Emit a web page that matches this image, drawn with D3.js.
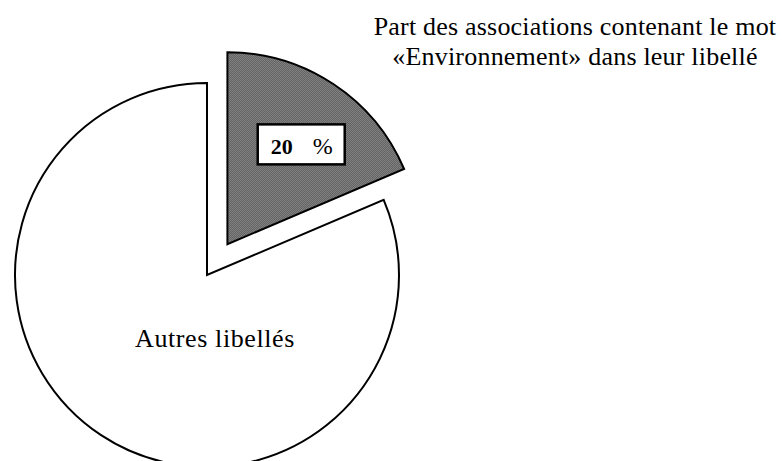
<!DOCTYPE html>
<html>
<head>
<meta charset="utf-8">
<script src="https://cdn.jsdelivr.net/npm/d3@7"></script>
<style>
  body { margin: 0; background: #fff; }
  text { font-family: "Liberation Serif", "Times New Roman", serif; fill: #000; }
</style>
</head>
<body>
<div id="canva"></div>
<script>
// parts (slice angle), label as printed
const categories = ["Environnement", "Autres libellés"];
const values = [18.6, 81.4];
const labelValue = "20";
const titleLines = ["Part des associations contenant le mot", "«Environnement» dans leur libellé"];
const otherLabel = "Autres libellés";

const width = 783;
const height = 461;
const cx = 207, cy = 275;
const radius = 192;
const explode = 37;

const svg = d3.select("#canva").append("svg")
    .attr("width", width)
    .attr("height", height);

// dithered grey fill
const pat = svg.append("defs").append("pattern")
    .attr("id", "dither")
    .attr("patternUnits", "userSpaceOnUse")
    .attr("width", 2)
    .attr("height", 2);
pat.append("rect").attr("width", 2).attr("height", 2).attr("fill", "#e4e4e4");
pat.append("rect").attr("x", 0).attr("y", 0).attr("width", 1).attr("height", 1).attr("fill", "#000");
pat.append("rect").attr("x", 1).attr("y", 1).attr("width", 1).attr("height", 1).attr("fill", "#000");

const pie = d3.pie().sort(null).value(d => d);
const arcs = pie(values);

const arc = d3.arc().innerRadius(0).outerRadius(radius);
const labelArc = d3.arc().innerRadius(122).outerRadius(122);

const g = svg.append("g").attr("transform", `translate(${cx},${cy})`);

function offset(d, i) {
    if (i !== 0) return [0, 0];
    const a = (d.startAngle + d.endAngle) / 2;
    return [explode * Math.sin(a), -explode * Math.cos(a)];
}

const slices = g.selectAll("g.slice").data(arcs).enter().append("g")
    .attr("class", "slice")
    .attr("transform", (d, i) => `translate(${offset(d, i)})`);

slices.append("path")
    .attr("d", arc)
    .attr("fill", (d, i) => i === 0 ? "url(#dither)" : "#fff")
    .attr("stroke", "#000")
    .attr("stroke-width", 2)
    .attr("stroke-linejoin", "miter");

// value box on the exploded slice
const first = slices.filter((d, i) => i === 0);
const c = labelArc.centroid(arcs[0]);
const bx = c[0] + 6, by = c[1] + 2;
first.append("rect")
    .attr("x", bx - 43)
    .attr("y", by - 20)
    .attr("width", 87)
    .attr("height", 40)
    .attr("fill", "#fff")
    .attr("stroke", "#000")
    .attr("stroke-width", 2.5);
first.append("text")
    .attr("x", bx - 8)
    .attr("y", by + 10)
    .attr("text-anchor", "end")
    .style("font-size", "22px")
    .style("font-weight", "bold")
    .text(labelValue);
first.append("text")
    .attr("x", bx + 12)
    .attr("y", by + 10)
    .style("font-size", "24px")
    .text("%");

g.append("text")
    .attr("x", 8)
    .attr("y", 72)
    .attr("text-anchor", "middle")
    .style("font-size", "26px")
    .style("letter-spacing", "0.6px")
    .text(otherLabel);

svg.append("g").selectAll("text").data(titleLines).enter().append("text")
    .attr("x", 575)
    .attr("y", (d, i) => 35 + i * 30)
    .attr("text-anchor", "middle")
    .style("font-size", "26px")
    .style("letter-spacing", "0.2px")
    .text(d => d);
</script>
</body>
</html>
